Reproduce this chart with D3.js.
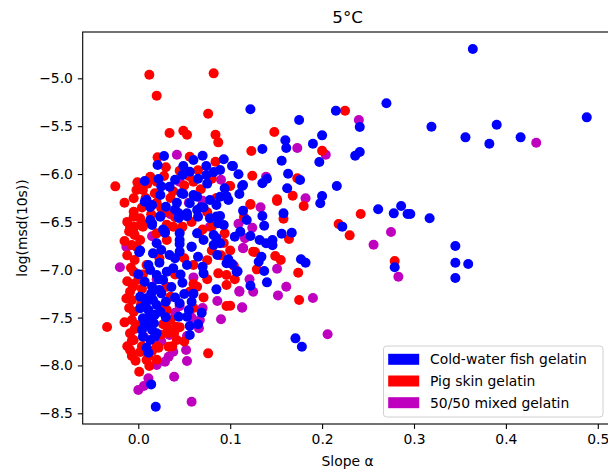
<!DOCTYPE html>
<html lang="en">
<head>
<meta charset="UTF-8">
<script src="https://d3js.org/d3.v7.min.js"></script>
<style>
body{ margin:0; background:#fff; }
svg text{ font-family:"DejaVu Sans", sans-serif; fill:#000; }
.axis text{ font-size:13.9px; }
.axis line{ stroke:#000; stroke-width:1.1; }
</style>
</head>
<body>
<svg id="chart"></svg>
<script>
// slope alpha / log(msd(10s)) pairs
const fish = [
  [0.364,-4.694],[0.319,-5.506],[0.356,-5.617],[0.382,-5.683],[0.390,-5.485],[0.416,-5.617],[0.488,-5.408],
  [0.296,-6.418],[0.317,-6.463],[0.345,-6.752],[0.345,-6.927],[0.359,-6.940],[0.345,-7.087],
  [0.122,-5.324],[0.215,-5.339],[0.270,-5.260],[0.175,-5.436],[0.241,-5.509],[0.160,-5.648],[0.161,-5.728],
  [0.200,-5.596],[0.190,-5.683],[0.197,-5.875],[0.236,-5.809],[0.241,-5.770],[0.135,-5.739],[0.156,-5.861],
  [0.103,-5.916],[0.109,-6.003],[0.140,-6.049],[0.135,-6.097],[0.163,-5.997],[0.176,-6.063],[0.114,-6.115],
  [0.110,-6.209],[0.162,-6.149],[0.216,-6.125],[0.200,-6.230],
  [0.114,-6.383],[0.118,-6.481],[0.135,-6.439],[0.137,-6.540],[0.198,-6.306],[0.158,-6.411],[0.261,-6.369],
  [0.278,-6.411],[0.286,-6.334],[0.293,-6.418],[0.222,-6.550],[0.279,-6.975],[0.105,-6.655],[0.111,-6.603],
  [0.122,-6.648],[0.132,-6.690],[0.139,-6.724],[0.146,-6.690],[0.146,-6.745],[0.156,-6.624],[0.167,-6.613],
  [0.134,-6.864],[0.131,-6.916],[0.177,-6.891],[0.182,-6.927],[0.137,-7.014],[0.108,-7.017],[0.102,-6.940],
  [0.122,-7.167],[0.140,-7.132],[0.171,-7.717],[0.178,-7.804],
  [0.028,-5.812],[0.021,-5.906],[0.049,-5.916],[0.060,-5.854],[0.070,-5.809],[0.056,-5.976],[0.074,-5.916],
  [0.093,-5.846],[0.102,-5.916],[0.089,-5.958],[0.074,-6.010],[0.065,-6.049],[0.048,-6.010],[0.022,-6.052],
  [0.007,-6.073],[0.025,-6.129],[0.034,-6.133],[0.024,-6.219],[0.009,-6.272],[0.015,-6.324],[0.049,-6.209],
  [0.064,-6.237],[0.056,-6.306],[0.068,-6.348],[0.085,-6.324],[0.096,-6.230],[0.094,-6.149],[0.113,-6.125],
  [0.030,-6.342],[0.042,-6.300],[0.044,-6.411],[0.053,-6.411],[0.065,-6.446],[0.089,-6.439],[0.087,-6.515],
  [0.015,-6.515],[0.024,-6.446],[0.029,-6.603],[0.045,-6.620],[0.064,-6.620],
  [0.047,-6.202],[0.060,-6.219],[0.078,-6.272],[0.089,-6.237],[0.098,-6.272],[0.007,-6.289],[0.013,-6.345],
  [0.013,-6.480],[0.024,-6.440],[0.040,-6.370],[0.044,-6.460],[0.053,-6.440],[0.064,-6.376],[0.071,-6.350],
  [0.078,-6.463],[0.085,-6.445],[0.093,-6.533],[0.027,-6.580],[0.045,-6.690],[0.058,-6.760],[0.071,-6.690],
  [0.085,-6.670],[0.002,-6.800],[0.075,-6.100],[0.082,-5.980],[0.040,-6.060],
  [0.001,-6.818],[0.000,-7.048],[0.019,-8.431],[0.014,-8.198],[0.011,-7.867],[0.009,-7.815],[0.018,-7.700],
  [0.015,-7.630],[0.004,-7.630],[0.007,-7.560],[0.017,-7.560],[0.020,-7.665],[0.056,-7.682],[0.056,-7.588],
  [0.053,-7.491],[0.044,-7.491],[0.030,-7.497],[0.069,-7.449],[0.048,-7.136],[0.050,-7.254],[0.045,-7.351],
  [0.058,-7.334],[0.071,-7.038],[0.070,-6.969],[0.085,-7.205],[0.096,-6.933],[0.107,-7.021],[0.098,-6.891],
  [0.086,-6.846],[0.082,-6.742],[0.089,-6.724],[0.082,-6.637],
  [0.029,-6.613],[0.015,-6.533],[0.020,-6.724],[0.025,-6.794],[0.016,-6.829],[0.034,-6.846],[0.023,-6.927],
  [0.040,-6.881],[0.045,-6.811],[0.045,-6.731],[0.058,-6.760],[0.065,-6.864],[0.053,-6.951],[0.038,-6.985],
  [0.013,-7.003],[0.020,-7.055],[0.027,-7.108],[0.007,-7.125],[0.015,-7.178],[0.023,-7.212],[0.002,-7.282],
  [0.009,-7.299],[0.016,-7.317],[0.002,-7.403],[0.011,-7.421],[0.020,-7.369],[0.024,-7.439],[0.005,-7.508],
  [0.013,-7.491],[0.030,-7.334],[0.025,-7.247],[0.005,-7.700],[0.013,-7.735],
  [0.010,-7.580],[0.018,-7.470],[0.008,-7.360],[0.014,-7.250],[0.022,-7.100],[0.011,-6.950],[0.031,-7.020],
  [0.036,-7.180],[0.046,-7.050],[0.055,-7.420],[0.060,-7.250],[0.040,-7.290],[0.065,-7.570]
];
const pig = [
  [0.012,-4.962],[0.082,-4.948],[0.020,-5.182],[0.076,-5.370],[0.034,-5.572],[0.049,-5.548],[0.053,-5.589],
  [0.084,-5.589],[0.087,-5.669],[0.123,-5.760],[0.124,-6.018],[-0.025,-6.129],[0.021,-5.826],[0.045,-5.965],
  [0.084,-5.871],[0.013,-6.028],[-0.001,-6.087],[0.005,-6.167],[0.099,-6.125],[0.122,-6.314],[-0.004,-6.551],
  [0.004,-6.515],[0.094,-6.620],[-0.005,-6.446],[-0.005,-6.620],[0.056,-5.819],
  [0.225,-5.339],[0.148,-5.561],[0.200,-5.757],[0.173,-6.045],[0.100,-6.125],[0.168,-6.227],[0.151,-6.264],
  [0.122,-6.321],[0.151,-6.282],[0.180,-6.334],[0.158,-6.467],[0.242,-6.418],[0.218,-6.522],[0.230,-6.641],
  [0.279,-6.909],[0.164,-6.679],[0.127,-6.815],[0.149,-6.857],[0.155,-6.899],[0.174,-7.031],[0.129,-6.996],
  [0.104,-6.958],[0.175,-7.317],[0.100,-7.376],
  [-0.034,-7.599],[0.001,-8.066],[0.076,-7.874],[0.012,-8.006],[-0.007,-7.902],[-0.009,-7.839],[-0.005,-7.735],
  [0.022,-7.815],[0.033,-7.804],[0.042,-7.735],[0.032,-7.612],[0.035,-7.526],[0.064,-7.178],[0.071,-7.289],
  [0.096,-7.379],[0.087,-7.038],[0.096,-7.055],[0.096,-7.160],[0.125,-6.811],
  [-0.009,-6.551],[-0.004,-6.637],[-0.007,-6.742],[-0.004,-6.899],[-0.005,-7.021],[-0.006,-7.178],[-0.009,-7.230],
  [-0.007,-7.317],[-0.005,-7.439],[-0.007,-7.526],[-0.002,-7.578],[-0.009,-7.665],[-0.007,-7.742],[-0.007,-7.874],
  [0.004,-7.800],[0.009,-7.944],[0.002,-6.690],[0.009,-6.950],[0.023,-6.880],[0.031,-6.690],[0.038,-6.551],
  [0.045,-6.590],[0.031,-7.178],[0.035,-7.282],[0.031,-7.421],[0.041,-7.595],[0.027,-7.570],[0.037,-7.800],
  [0.033,-7.660],[0.056,-7.230],[0.060,-7.150],[0.039,-7.660],[0.020,-7.940],[0.002,-7.860],[0.011,-7.900],
  [0.020,-7.800],
  [-0.002,-6.167],[-0.005,-6.254],[-0.005,-6.394],[0.002,-6.463],[0.005,-6.550],[0.025,-6.358],[0.031,-6.530],
  [0.066,-6.620],[0.093,-6.720],[0.020,-6.620],
  [0.010,-6.100],[0.018,-6.200],[0.035,-6.250],[0.050,-6.120],[0.060,-6.080],[0.028,-6.020],[0.068,-6.160],
  [0.080,-6.050],[0.004,-6.350],[-0.002,-6.760],[-0.008,-6.980],[0.000,-7.100],[-0.010,-7.400],[-0.004,-7.620],
  [0.003,-7.360],[0.004,-7.200],[0.005,-7.050],[-0.012,-7.120],[-0.012,-6.850],
  [-0.015,-6.300],[-0.012,-6.500],[-0.015,-6.700],[-0.010,-6.600],[-0.013,-7.300],[-0.015,-7.550],[-0.012,-7.800],
  [-0.003,-7.950],[0.006,-7.700],[-0.005,-7.150],[0.008,-6.250],[0.014,-6.420],[0.020,-6.300],[0.030,-6.400],
  [0.040,-6.450],[0.048,-6.550],[0.058,-6.500],[0.070,-6.580],[0.080,-6.550],[0.085,-6.250],[0.075,-6.400],
  [0.055,-6.020],[0.065,-5.960],[0.038,-6.180],[0.030,-5.930],[0.020,-6.080],[0.080,-6.800],[0.075,-6.900],
  [0.060,-6.950],[0.050,-6.880],[0.040,-7.050],[0.028,-7.400],[0.045,-7.600],[0.050,-7.750],[0.025,-7.680],
  [0.015,-7.850],[0.060,-7.400],[0.075,-7.100],[0.090,-6.850],[0.100,-6.800],[0.105,-7.100],[0.115,-6.450]
];
const mixed = [
  [0.433,-5.673],[0.240,-5.436],[0.173,-5.728],[0.204,-5.798],[0.139,-6.028],[0.182,-6.254],[0.133,-6.348],
  [0.124,-6.561],[0.275,-6.606],[0.256,-6.739],[0.283,-7.073],[0.114,-6.773],[0.151,-6.989],[0.121,-7.100],
  [0.125,-7.230],[0.110,-7.223],[0.161,-7.178],[0.152,-7.268],[0.190,-7.296],[0.113,-7.393],[0.206,-7.675],
  [0.042,-5.798],
  [-0.011,-6.752],[-0.020,-6.975],[0.058,-8.379],[0.000,-8.257],[0.006,-8.215],[0.011,-8.135],[0.039,-8.118],
  [0.053,-7.954],[0.052,-7.839],[0.020,-7.996],[0.029,-7.961],[0.033,-7.909],[0.038,-7.857],[0.034,-7.682],
  [0.053,-7.693],[0.066,-7.612],[0.067,-7.526],[0.090,-7.518],[0.086,-7.327],[0.110,-7.230],[0.113,-7.397],
  [0.114,-6.776],[0.078,-6.551],[-0.013,-6.760],[0.109,-6.520],[0.116,-6.670],
  [0.020,-7.100],[0.040,-7.450],[0.058,-7.500],[0.025,-7.750],[0.045,-7.380],[0.070,-7.400],[0.060,-7.080],
  [0.015,-6.650],[0.035,-6.420],[0.055,-6.300],[0.045,-6.080],[0.070,-6.280],[0.090,-6.060]
];
const xTicks = [0.0, 0.1, 0.2, 0.3, 0.4, 0.5];
const yTicks = [-8.5, -8.0, -7.5, -7.0, -6.5, -6.0, -5.5, -5.0];
const legendNames = ['Cold-water fish gelatin', 'Pig skin gelatin', '50/50 mixed gelatin'];
const legendColors = ['#0000ff', '#ff0000', '#bf00bf'];

let W = 608, H = 472;
let margin = { top: 32, left: 82.7, bottom: 424, right: 612.5 };

let svg = d3.select('#chart').attr('width', W).attr('height', H);

let x = d3.scaleLinear().domain([-0.0605, 0.516]).range([margin.left, margin.right]);
let y = d3.scaleLinear().domain([-8.612, -4.516]).range([margin.bottom, margin.top]);

let fmt = d => d3.format('.1f')(d).replace('-', '\u2212');

// points: mixed below, pig, then fish on top
let series = [[mixed, '#bf00bf'], [pig, '#ff0000'], [fish, '#0000ff']];
series.forEach(([data, col]) => {
    svg.append('g').selectAll('circle')
        .data(data)
        .enter().append('circle')
        .attr('cx', d => x(d[0]))
        .attr('cy', d => y(d[1]))
        .attr('r', 5)
        .attr('fill', col);
});

// axes
svg.append('g')
    .attr('class', 'axis')
    .attr('transform', 'translate(0,' + margin.bottom + ')')
    .call(d3.axisBottom(x).tickValues(xTicks).tickFormat(fmt).tickSize(4.9).tickPadding(4.9).tickSizeOuter(0))
    .call(g => g.select('.domain').remove());
svg.append('g')
    .attr('class', 'axis')
    .attr('transform', 'translate(' + margin.left + ',0)')
    .call(d3.axisLeft(y).tickValues(yTicks).tickFormat(fmt).tickSize(4.9).tickPadding(4.9).tickSizeOuter(0))
    .call(g => g.select('.domain').remove());

// frame
svg.append('rect')
    .attr('x', margin.left).attr('y', margin.top)
    .attr('width', margin.right - margin.left).attr('height', margin.bottom - margin.top)
    .attr('fill', 'none').attr('stroke', '#000').attr('stroke-width', 1.1);

// title and labels
svg.append('text')
    .attr('x', (margin.left + margin.right) / 2).attr('y', 23)
    .attr('text-anchor', 'middle').attr('font-size', '16.7px')
    .text('5°C');
svg.append('text')
    .attr('x', (margin.left + margin.right) / 2).attr('y', 466)
    .attr('text-anchor', 'middle').attr('font-size', '13.9px')
    .text('Slope α');
svg.append('text')
    .attr('transform', 'translate(27,' + (margin.top + margin.bottom) / 2 + ') rotate(-90)')
    .attr('text-anchor', 'middle').attr('font-size', '13.9px')
    .text('log(msd(10s))');

// legend
let lg = svg.append('g').attr('transform', 'translate(383.5,346)');
lg.append('rect')
    .attr('width', 219.5).attr('height', 71).attr('rx', 3)
    .attr('fill', '#fff').attr('fill-opacity', 0.8)
    .attr('stroke', '#d0d0d0').attr('stroke-width', 1);
legendNames.forEach((name, i) => {
    let cy = 13.3 + i * 21.7;
    lg.append('rect')
        .attr('x', 4.7).attr('y', cy - 5.5)
        .attr('width', 31).attr('height', 11)
        .attr('fill', legendColors[i]);
    lg.append('text')
        .attr('x', 46.5).attr('y', cy + 5)
        .attr('font-size', '13.9px')
        .text(name);
});
</script>
</body>
</html>
